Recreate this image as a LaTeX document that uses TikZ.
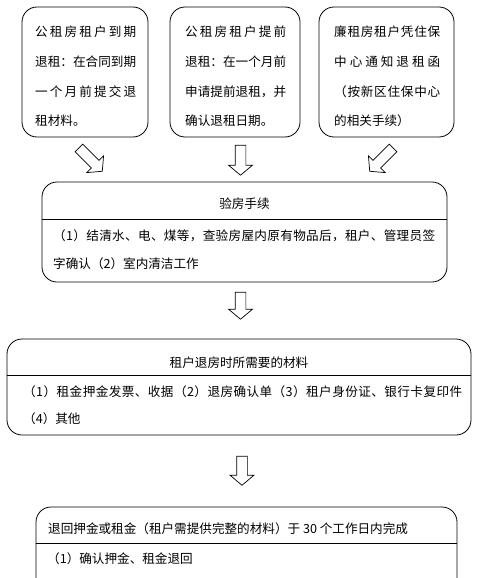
\documentclass[tikz,border=0pt]{standalone}
\usepackage{fontspec}
\setmainfont{Noto Sans CJK SC}
\usetikzlibrary{shapes.arrows}
\def\spreadtxt#1#2{\makebox[#1][s]{\spreadA#2\relax}}
\def\spreadA#1{\ifx\relax#1\else#1\expandafter\spreadB\fi}
\def\spreadB#1{\ifx\relax#1\else\hfil#1\expandafter\spreadB\fi}
\begin{document}
\begin{tikzpicture}[x=1pt,y=-1pt,
  box/.style={draw, line width=0.8pt, rounded corners=15pt, inner sep=0pt},
  txt/.style={inner sep=0pt, font=\fontsize{12.6}{15}\selectfont, anchor=base west},
  ctxt/.style={inner sep=0pt, font=\fontsize{12.6}{15}\selectfont, anchor=base},
  blk/.style={draw, line width=0.7pt, single arrow, single arrow head extend=6.5pt,
    single arrow tip angle=100, inner xsep=0pt, inner ysep=5pt,
    single arrow head indent=0pt}]
\useasboundingbox (0,0) rectangle (480,578);
\clip (0,0) rectangle (480,578);
\fill[white] (0,0) rectangle (480,578);
% top boxes
\node[box, minimum width=126pt, minimum height=130pt] (b1) at (85,72) {};
\node[box, minimum width=130pt, minimum height=130pt] (b2) at (235,72) {};
\node[box, minimum width=135pt, minimum height=130pt] (b3) at (386.5,72) {};
% box 1 text
\node[txt] (t11) at (35,37) {\spreadtxt{101pt}{公租房租户到期}};
\node[txt] (t12) at (35,66.5) {\spreadtxt{101pt}{退租：在合同到期}};
\node[txt] (t13) at (35,96) {\spreadtxt{101pt}{一个月前提交退}};
\node[txt] (t14) at (35,125.5) {租材料。};
% box 2 text
\node[txt] (t21) at (185,37) {\spreadtxt{101pt}{公租房租户提前}};
\node[txt] (t22) at (185,66.5) {\spreadtxt{101pt}{退租：在一个月前}};
\node[txt] (t23) at (185,96) {\spreadtxt{101pt}{申请提前退租，并}};
\node[txt] (t24) at (185,125.5) {确认退租日期。};
% box 3 text
\node[txt] (t31) at (334,37) {\spreadtxt{106pt}{廉租房租户凭住保}};
\node[txt] (t32) at (334,66.5) {\spreadtxt{106pt}{中心通知退租函}};
\node[txt] (t33) at (334,96) {\spreadtxt{106pt}{（按新区住保中心}};
\node[txt] (t34) at (334,125.5) {的相关手续）};
% arrows
\node[blk, minimum height=33pt, rotate=-45] (a1) at (89,158) {};
\node[blk, minimum height=30pt, rotate=-90] (a2) at (240.5,158) {};
\node[blk, minimum height=33pt, rotate=-135] (a3) at (383,158) {};
% box A
\node[box, minimum width=405pt, minimum height=100pt] (A) at (244.5,232) {};
\draw[line width=0.8pt] (A.west |- 0,219) -- (A.east |- 0,219);
\node[ctxt] (At) at (244.5,208) {验房手续};
\node[txt] (A1) at (53,240) {\spreadtxt{382pt}{（1）结清水、电、煤等，查验房屋内原有物品后，租户、管理员签}};
\node[txt] (A2) at (53,268) {字确认（2）室内清洁工作};
\node[blk, minimum height=27pt, rotate=-90] (a4) at (240.5,303.5) {};
% box B
\node[box, minimum width=464pt, minimum height=96pt] (B) at (239,387) {};
\draw[line width=0.8pt] (B.west |- 0,375) -- (B.east |- 0,375);
\node[ctxt] (Bt) at (239,367) {租户退房时所需要的材料};
\node[txt] (B1) at (23,396) {\spreadtxt{439pt}{（1）租金押金发票、收据（2）退房确认单（3）租户身份证、银行卡复印件}};
\node[txt] (B2) at (23,423) {（4）其他};
\node[blk, minimum height=29pt, rotate=-90] (a5) at (242,468.5) {};
% box C
\node[box, minimum width=421pt, minimum height=113pt] (C) at (246.5,563.5) {};
\draw[line width=0.8pt] (C.west |- 0,543) -- (C.east |- 0,543);
\node[txt] (Ct) at (48,533) {退回押金或租金（租户需提供完整的材料）于 30 个工作日内完成};
\node[txt] (C1) at (47,563) {（1）确认押金、租金退回};
\end{tikzpicture}
\end{document}
